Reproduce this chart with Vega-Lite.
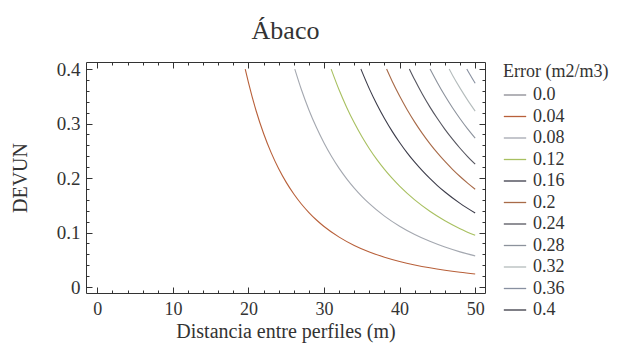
{
  "$schema": "https://vega.github.io/schema/vega-lite/v6.json",
  "width": 399,
  "height": 231,
  "autosize": {"type": "none"},
  "padding": {"left": 86, "top": 62, "right": 151, "bottom": 60},
  "background": "white",
  "title": {
    "text": "Ábaco",
    "font": "Liberation Serif",
    "fontSize": 26,
    "fontWeight": "normal",
    "color": "#333333",
    "anchor": "middle",
    "offset": 16
  },
  "config": {
    "view": {"stroke": "#333333", "strokeWidth": 1},
    "axis": {
      "domain": false,
      "grid": false,
      "labelFont": "Liberation Serif",
      "labelFontSize": 19,
      "labelColor": "#333333",
      "titleFont": "Liberation Serif",
      "titleFontSize": 20,
      "titleFontWeight": "normal",
      "titleColor": "#333333",
      "tickColor": "#333333",
      "tickWidth": 1,
      "labelOverlap": false
    },
    "legend": {
      "labelFont": "Liberation Serif",
      "titleFont": "Liberation Serif",
      "titleFontWeight": "normal"
    }
  },
  "data": {
    "values": [
      {"level": "0.04", "x": 19.57, "y": 0.4},
      {"level": "0.04", "x": 20, "y": 0.375},
      {"level": "0.04", "x": 21, "y": 0.324},
      {"level": "0.04", "x": 22, "y": 0.2817},
      {"level": "0.04", "x": 23, "y": 0.2466},
      {"level": "0.04", "x": 24, "y": 0.217},
      {"level": "0.04", "x": 25, "y": 0.192},
      {"level": "0.04", "x": 26, "y": 0.1707},
      {"level": "0.04", "x": 27, "y": 0.1524},
      {"level": "0.04", "x": 28, "y": 0.1367},
      {"level": "0.04", "x": 29, "y": 0.123},
      {"level": "0.04", "x": 30, "y": 0.1111},
      {"level": "0.04", "x": 32, "y": 0.0916},
      {"level": "0.04", "x": 34, "y": 0.0763},
      {"level": "0.04", "x": 36, "y": 0.0643},
      {"level": "0.04", "x": 38, "y": 0.0547},
      {"level": "0.04", "x": 40, "y": 0.0469},
      {"level": "0.04", "x": 42, "y": 0.0405},
      {"level": "0.04", "x": 44, "y": 0.0352},
      {"level": "0.04", "x": 46, "y": 0.0308},
      {"level": "0.04", "x": 48, "y": 0.0271},
      {"level": "0.04", "x": 50, "y": 0.024},
      {"level": "0.08", "x": 26.13, "y": 0.4},
      {"level": "0.08", "x": 27, "y": 0.3625},
      {"level": "0.08", "x": 28, "y": 0.325},
      {"level": "0.08", "x": 29, "y": 0.2926},
      {"level": "0.08", "x": 30, "y": 0.2643},
      {"level": "0.08", "x": 31, "y": 0.2395},
      {"level": "0.08", "x": 32, "y": 0.2177},
      {"level": "0.08", "x": 33, "y": 0.1985},
      {"level": "0.08", "x": 34, "y": 0.1815},
      {"level": "0.08", "x": 35, "y": 0.1664},
      {"level": "0.08", "x": 36, "y": 0.1529},
      {"level": "0.08", "x": 38, "y": 0.13},
      {"level": "0.08", "x": 40, "y": 0.1115},
      {"level": "0.08", "x": 42, "y": 0.0963},
      {"level": "0.08", "x": 44, "y": 0.0838},
      {"level": "0.08", "x": 46, "y": 0.0733},
      {"level": "0.08", "x": 48, "y": 0.0645},
      {"level": "0.08", "x": 50, "y": 0.0571},
      {"level": "0.12", "x": 30.94, "y": 0.4},
      {"level": "0.12", "x": 32, "y": 0.3615},
      {"level": "0.12", "x": 33, "y": 0.3296},
      {"level": "0.12", "x": 34, "y": 0.3014},
      {"level": "0.12", "x": 35, "y": 0.2763},
      {"level": "0.12", "x": 36, "y": 0.2539},
      {"level": "0.12", "x": 37, "y": 0.2338},
      {"level": "0.12", "x": 38, "y": 0.2159},
      {"level": "0.12", "x": 39, "y": 0.1997},
      {"level": "0.12", "x": 40, "y": 0.1851},
      {"level": "0.12", "x": 42, "y": 0.1599},
      {"level": "0.12", "x": 44, "y": 0.1391},
      {"level": "0.12", "x": 46, "y": 0.1217},
      {"level": "0.12", "x": 48, "y": 0.1071},
      {"level": "0.12", "x": 50, "y": 0.0948},
      {"level": "0.16", "x": 34.88, "y": 0.4},
      {"level": "0.16", "x": 36, "y": 0.3637},
      {"level": "0.16", "x": 37, "y": 0.335},
      {"level": "0.16", "x": 38, "y": 0.3093},
      {"level": "0.16", "x": 39, "y": 0.2861},
      {"level": "0.16", "x": 40, "y": 0.2652},
      {"level": "0.16", "x": 41, "y": 0.2462},
      {"level": "0.16", "x": 42, "y": 0.2291},
      {"level": "0.16", "x": 43, "y": 0.2135},
      {"level": "0.16", "x": 44, "y": 0.1992},
      {"level": "0.16", "x": 45, "y": 0.1862},
      {"level": "0.16", "x": 46, "y": 0.1744},
      {"level": "0.16", "x": 48, "y": 0.1535},
      {"level": "0.16", "x": 50, "y": 0.1358},
      {"level": "0.2", "x": 38.28, "y": 0.4},
      {"level": "0.2", "x": 39, "y": 0.3781},
      {"level": "0.2", "x": 40, "y": 0.3505},
      {"level": "0.2", "x": 41, "y": 0.3254},
      {"level": "0.2", "x": 42, "y": 0.3027},
      {"level": "0.2", "x": 43, "y": 0.2821},
      {"level": "0.2", "x": 44, "y": 0.2633},
      {"level": "0.2", "x": 45, "y": 0.2461},
      {"level": "0.2", "x": 46, "y": 0.2304},
      {"level": "0.2", "x": 47, "y": 0.216},
      {"level": "0.2", "x": 48, "y": 0.2028},
      {"level": "0.2", "x": 49, "y": 0.1907},
      {"level": "0.2", "x": 50, "y": 0.1794},
      {"level": "0.24", "x": 41.3, "y": 0.4},
      {"level": "0.24", "x": 42, "y": 0.3803},
      {"level": "0.24", "x": 43, "y": 0.3543},
      {"level": "0.24", "x": 44, "y": 0.3307},
      {"level": "0.24", "x": 45, "y": 0.3092},
      {"level": "0.24", "x": 46, "y": 0.2894},
      {"level": "0.24", "x": 47, "y": 0.2714},
      {"level": "0.24", "x": 48, "y": 0.2547},
      {"level": "0.24", "x": 49, "y": 0.2395},
      {"level": "0.24", "x": 50, "y": 0.2254},
      {"level": "0.28", "x": 44.03, "y": 0.4},
      {"level": "0.28", "x": 45, "y": 0.3749},
      {"level": "0.28", "x": 46, "y": 0.3509},
      {"level": "0.28", "x": 47, "y": 0.329},
      {"level": "0.28", "x": 48, "y": 0.3089},
      {"level": "0.28", "x": 49, "y": 0.2903},
      {"level": "0.28", "x": 50, "y": 0.2733},
      {"level": "0.32", "x": 46.56, "y": 0.4},
      {"level": "0.32", "x": 47, "y": 0.3888},
      {"level": "0.32", "x": 48, "y": 0.365},
      {"level": "0.32", "x": 49, "y": 0.3431},
      {"level": "0.32", "x": 50, "y": 0.3229},
      {"level": "0.36", "x": 48.9, "y": 0.4},
      {"level": "0.36", "x": 49, "y": 0.3975},
      {"level": "0.36", "x": 49.5, "y": 0.3856},
      {"level": "0.36", "x": 50, "y": 0.3741}
    ]
  },
  "layer": [
    {
      "mark": {"type": "line", "interpolate": "monotone", "strokeWidth": 1.1},
      "encoding": {
        "x": {
          "field": "x",
          "type": "quantitative",
          "scale": {"domain": [-1.5, 51.3], "nice": false, "zero": false},
          "axis": {
            "orient": "bottom",
            "title": "Distancia entre perfiles (m)",
            "labelFont": "Liberation Serif",
            "labelFontSize": 18,
            "values": [0, 2, 4, 6, 8, 10, 12, 14, 16, 18, 20, 22, 24, 26, 28, 30, 32, 34, 36, 38, 40, 42, 44, 46, 48, 50],
            "labelExpr": "datum.value % 10 === 0 ? datum.label : ''",
            "tickSize": -6,
            "tickDash": {"condition": {"test": "datum.value % 10 === 0", "value": [6, 0]}, "value": [3, 10]},
            "labelPadding": 13,
            "titlePadding": 3
          }
        },
        "y": {
          "field": "y",
          "type": "quantitative",
          "scale": {"domain": [-0.011, 0.413], "nice": false, "zero": false},
          "axis": {
            "orient": "left",
            "title": "DEVUN",
            "labelFont": "Liberation Serif",
            "format": "~g",
            "values": [0, 0.02, 0.04, 0.06, 0.08, 0.1, 0.12, 0.14, 0.16, 0.18, 0.2, 0.22, 0.24, 0.26, 0.28, 0.3, 0.32, 0.34, 0.36, 0.38, 0.4],
            "labelExpr": "round(datum.value * 100) % 10 === 0 ? datum.label : ''",
            "tickSize": -6,
            "tickDash": {"condition": {"test": "round(datum.value * 100) % 10 === 0", "value": [6, 0]}, "value": [3, 10]},
            "labelPadding": 12,
            "titlePadding": 26
          }
        },
        "color": {
          "field": "level",
          "type": "nominal",
          "scale": {
            "domain": ["0.0", "0.04", "0.08", "0.12", "0.16", "0.2", "0.24", "0.28", "0.32", "0.36", "0.4"],
            "range": ["#8a8a92", "#b8603a", "#a4a8b0", "#a8c060", "#3c3c4a", "#a86a48", "#55555f", "#8c929c", "#b4bcbc", "#8890a0", "#3a3a44"]
          },
          "legend": {
            "title": "Error (m2/m3)",
            "orient": "none",
            "legendX": 417,
            "legendY": 1,
            "symbolType": "stroke",
            "symbolSize": 500,
            "symbolStrokeWidth": 1.3,
            "labelFont": "Liberation Serif",
            "titleFont": "Liberation Serif",
            "labelFontSize": 18,
            "titleFontSize": 18,
            "labelColor": "#333333",
            "titleColor": "#333333",
            "rowPadding": 0.5,
            "labelOffset": 6,
            "titlePadding": 2
          }
        }
      }
    },
    {
      "mark": {"type": "point", "opacity": 0},
      "encoding": {
        "x": {
          "field": "x",
          "type": "quantitative",
          "scale": {"domain": [-1.5, 51.3], "nice": false, "zero": false},
          "axis": {
            "orient": "top",
            "title": null,
            "labels": false,
            "values": [0, 2, 4, 6, 8, 10, 12, 14, 16, 18, 20, 22, 24, 26, 28, 30, 32, 34, 36, 38, 40, 42, 44, 46, 48, 50],
            "tickSize": -6,
            "tickDash": {"condition": {"test": "datum.value % 10 === 0", "value": [6, 0]}, "value": [3, 10]}
          }
        },
        "y": {
          "field": "y",
          "type": "quantitative",
          "scale": {"domain": [-0.011, 0.413], "nice": false, "zero": false},
          "axis": {
            "orient": "right",
            "title": null,
            "labels": false,
            "values": [0, 0.02, 0.04, 0.06, 0.08, 0.1, 0.12, 0.14, 0.16, 0.18, 0.2, 0.22, 0.24, 0.26, 0.28, 0.3, 0.32, 0.34, 0.36, 0.38, 0.4],
            "tickSize": -6,
            "tickDash": {"condition": {"test": "round(datum.value * 100) % 10 === 0", "value": [6, 0]}, "value": [3, 10]}
          }
        }
      }
    }
  ],
  "resolve": {"axis": {"x": "independent", "y": "independent"}}
}
